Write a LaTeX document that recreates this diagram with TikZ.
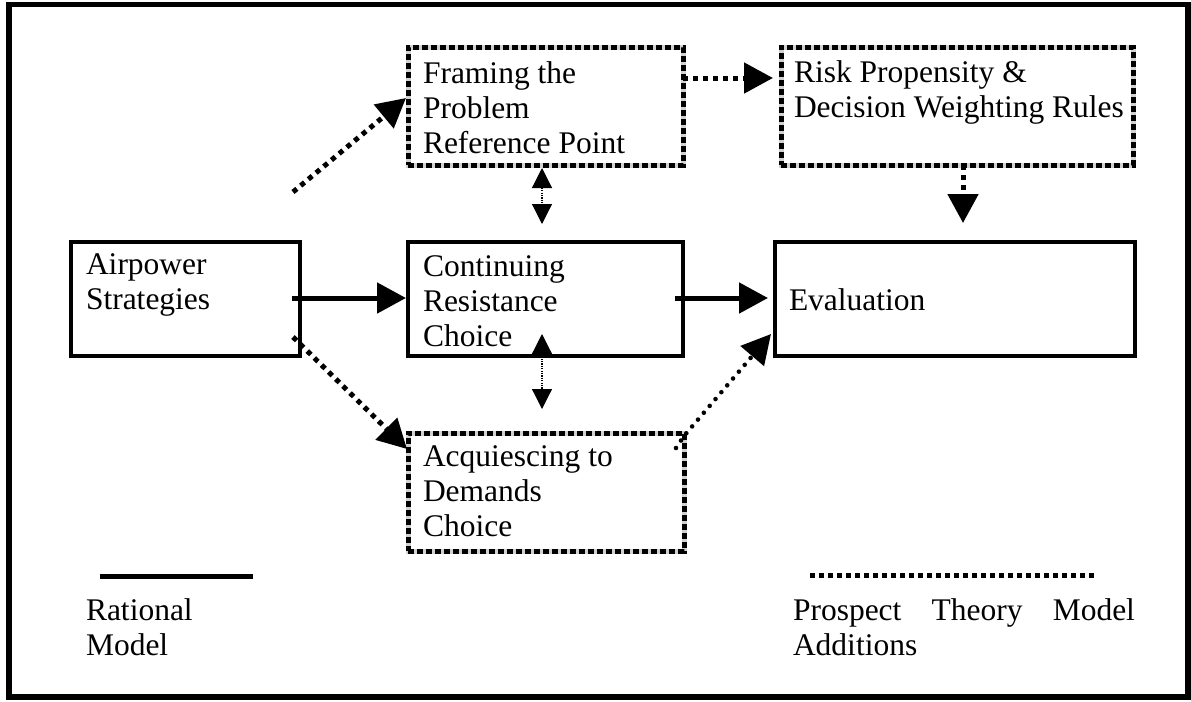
\documentclass[tikz,border=0pt]{standalone}
\usepackage{fontspec}
\setmainfont{Liberation Serif}
\usetikzlibrary{arrows.meta}
\begin{document}
\begin{tikzpicture}[x=0.5pt,y=-0.5pt,
  solidbox/.style={draw, line width=1.6pt, inner sep=0pt, outer sep=0pt},
  dotbox/.style={draw=gray!35, line width=2.5pt, inner sep=0pt, outer sep=0pt,
     postaction={draw=black, line width=2.5pt, dash pattern=on 3pt off 1.5pt}},
  txt/.style={font=\fontsize{15.75pt}{17.5pt}\selectfont, inner sep=0pt, outer sep=0pt, align=left, anchor=base west},
  bigtip/.style={-{Triangle[length=14.5pt,width=15pt]}},
  solidarrow/.style={line width=2.5pt, bigtip},
  sqdot/.style={line width=2.5pt, dash pattern=on 2.5pt off 2.5pt},
  rddot/.style={line width=2.3pt, line cap=round, dash pattern=on 0pt off 4.5pt},
  thindbl/.style={line width=0.6pt, dash pattern=on 0.6pt off 0.6pt,
     {Triangle[length=10pt,width=10pt]}-{Triangle[length=10pt,width=10pt]}}
]
\useasboundingbox (0,0) rectangle (1191,702);
% outer frame
\draw[line width=2.75pt] (9,4.5) rectangle (1188,697);

% boxes
\node[solidbox, minimum width=114.5pt, minimum height=57pt] (air) at (185.5,299) {};
\node[solidbox, minimum width=137.5pt, minimum height=57pt] (cont) at (545.5,299) {};
\node[solidbox, minimum width=180pt, minimum height=57pt] (eval) at (955,299) {};
\node[dotbox, minimum width=137.5pt, minimum height=59pt] (frame) at (545.5,106) {};
\node[dotbox, minimum width=176pt, minimum height=59pt] (risk) at (957,106) {};
\node[dotbox, minimum width=138pt, minimum height=59pt] (acq) at (546,492) {};

% texts (anchor = baseline of the last line)
\node[txt] (airT) at (86,309) {Airpower\\Strategies};
\node[txt] (contT) at (423,346) {Continuing\\Resistance\\Choice};
\node[txt] (evalT) at (789,310) {Evaluation};
\node[txt] (frameT) at (423,153) {Framing the\\Problem\\Reference Point};
\node[txt] (riskT) at (794,117) {Risk Propensity \&\\Decision Weighting Rules};
\node[txt] (acqT) at (423,536) {Acquiescing to\\Demands\\Choice};

% connector coordinates
\coordinate (airR) at (292,298);
\coordinate (contL) at (406,298);
\coordinate (contR) at (675,298);
\coordinate (evalL) at (768,298);
\coordinate (airUp) at (293,192);
\coordinate (frameL) at (406,98);
\coordinate (airDn) at (293,337);
\coordinate (acqL) at (407,449);
\coordinate (frameR) at (683,78);
\coordinate (riskL) at (773,78);
\coordinate (riskB) at (963,165);
\coordinate (riskDn) at (963,223);
\coordinate (frameB) at (542,168);
\coordinate (contT1) at (542,224);
\coordinate (contB) at (542,334);
\coordinate (acqT1) at (542,409);
\coordinate (acqS) at (676,448);
\coordinate (acqC) at (684,436);
\coordinate (evalBL) at (771,334);

% rational model arrows
\draw[solidarrow] (airR) -- (contL);
\draw[solidarrow] (contR) -- (evalL);

% prospect theory arrows
\draw[sqdot, bigtip] (airUp) -- (frameL);
\draw[sqdot, bigtip] (airDn) -- (acqL);
\draw[sqdot, bigtip] (frameR) -- (riskL);
\draw[sqdot, bigtip] (riskB) -- (riskDn);
\draw[rddot, bigtip] (acqS) -- (acqC) -- (evalBL);
\draw[thindbl] (frameB) -- (contT1);
\draw[thindbl] (contB) -- (acqT1);

% legend
\coordinate (lgA1) at (100,576.5);
\coordinate (lgA2) at (253,576.5);
\coordinate (lgB1) at (810,575.5);
\coordinate (lgB2) at (1095,575.5);
\draw[line width=2.5pt] (lgA1) -- (lgA2);
\draw[line width=2.5pt, dash pattern=on 2.5pt off 2pt] (lgB1) -- (lgB2);
\node[txt] (ratT) at (86,655) {Rational\\Model};
\node[txt] (proT) at (793,655) {\makebox[171pt][s]{Prospect Theory Model}\\Additions};
\end{tikzpicture}
\end{document}
